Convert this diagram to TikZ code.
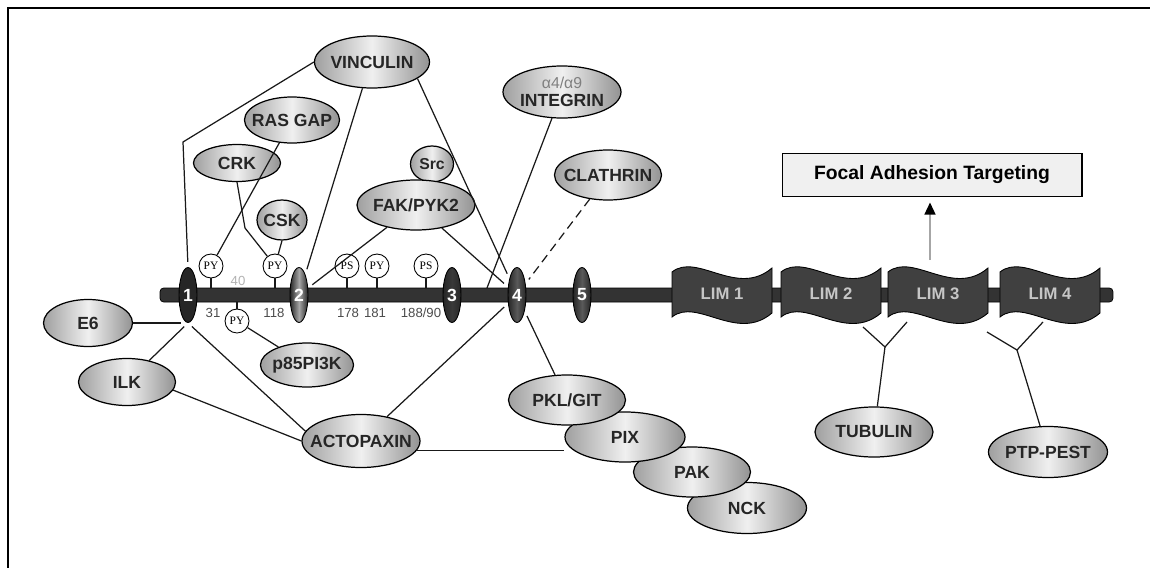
\documentclass[tikz,border=0pt]{standalone}
\usepackage{fontspec}
\setmainfont{Liberation Sans}
\newfontfamily\serifpy{Liberation Serif}
\usetikzlibrary{shapes.geometric,arrows.meta}
\newcommand\tagtxt[1]{\makebox[0pt]{#1}}
\tikzset{
  prot/.style 2 args={ellipse, draw=black, line width=0.7pt, inner sep=0pt,
    minimum width=#1*0.02cm, minimum height=#2*0.02cm,
    left color=gray!75, right color=gray!85, middle color=gray!12,
    font=\bfseries\fontsize{10}{11}\selectfont, text=black!85},
  dom/.style={ellipse, draw=black, line width=0.5pt, inner sep=0pt,
    minimum width=0.36cm, minimum height=1.1cm,
    left color=black!85, right color=black!85, middle color=#1,
    text=white, font=\bfseries\fontsize{10}{11}\selectfont},
  pysite/.style={circle, draw=black, fill=white, line width=0.5pt, inner sep=0pt,
    minimum size=0.48cm, font=\serifpy\fontsize{6.5}{7}\selectfont},
  resnum/.style={inner sep=0pt, text=black!70, font=\fontsize{7.5}{8}\selectfont},
  limtxt/.style={inner sep=0pt, text=gray!45, font=\bfseries\fontsize{9.5}{10}\selectfont},
  bar/.style={rectangle, rounded corners=2pt, fill=black!80, draw=black,
    minimum width=19.06cm, minimum height=0.28cm, inner sep=0pt},
  targbox/.style={rectangle, draw=black, fill=gray!12, line width=0.6pt,
    minimum width=6cm, minimum height=0.86cm, font=\bfseries\fontsize{11}{13}\selectfont},
  link/.style={draw=black!90, line width=0.7pt},
  tie/.style={link, shorten >=3pt},
  targ/.style={draw=gray!70, line width=1.6pt, -{Triangle[length=7pt,width=6pt,color=black]}}
}
\begin{document}
\begin{tikzpicture}[x=0.02cm, y=-0.02cm]
  \useasboundingbox (0,0) rectangle (1150,568);
  \draw[line width=1.2pt] (8,568) -- (8,8) -- (1150,8);

  % backbone
  \node[bar] (bar) at (636.5,295) {};
  \foreach \x/\n in {672/1,781/2,888/3,1000/4}{
    \filldraw[fill=black!75, draw=black, line width=0.5pt]
      (\x,272) .. controls (\x+25,252) and (\x+65,298) .. (\x+100,268)
      -- (\x+100,313) .. controls (\x+65,343) and (\x+25,297) .. (\x,317) -- cycle;
    \node[limtxt] (lim\n) at (\x+50,294) {LIM \n};
  }
  \node[dom=black!85] (dom1) at (188,295) {1};
  \node[dom=gray!70] (dom2) at (299,295) {2};
  \node[dom=gray!45!black] (dom3) at (452,295) {3};
  \node[dom=black!65] (dom4) at (517,295) {4};
  \node[dom=black!65] (dom5) at (582,295) {5};

  % phospho sites
  \node[pysite] (py1) at (211,266) {PY};
  \node[pysite] (py2) at (275,266) {PY};
  \node[pysite] (ps1) at (347,266) {PS};
  \node[pysite] (py4) at (377,266) {PY};
  \node[pysite] (ps2) at (426,266) {PS};
  \node[pysite] (py3) at (237,321) {PY};
  \foreach \s in {py1,py2,ps1,py4,ps2}
    \draw[link] (\s.south) -- (\s.south |- bar.north);
  \draw[link] (py3.north) -- (py3.north |- bar.south);

  \node[resnum, text=gray!60] (r40) at (238,281) {40};
  \node[resnum] (r31) at (213,313) {31};
  \node[resnum] (r118) at (274,313) {118};
  \node[resnum] (r178) at (348,313) {178};
  \node[resnum] (r181) at (375,313) {181};
  \node[resnum] (r188) at (421,313) {188/90};

  % partners
  \node[prot={115}{52}] (vinc) at (372,62) {\tagtxt{VINCULIN}};
  \node[prot={95}{46}] (rasgap) at (292,120) {\tagtxt{RAS GAP}};
  \node[prot={87}{37}] (crk) at (237,163) {\tagtxt{CRK}};
  \node[prot={50}{40}] (csk) at (282,220) {\tagtxt{CSK}};
  \node[prot={43}{36}, font=\bfseries\fontsize{9}{10}\selectfont] (src) at (432,164) {\tagtxt{Src}};
  \node[prot={118}{50}] (fak) at (416,205) {\tagtxt{FAK/PYK2}};
  \node[prot={118}{52}] (integ) at (562,92)
    {\tagtxt{\shortstack{{\mdseries\color{gray}\fontsize{9}{9}\selectfont α4/α9}\\INTEGRIN}}};
  \node[prot={107}{50}] (clath) at (608,175) {\tagtxt{CLATHRIN}};
  \node[prot={89}{47}] (e6) at (88,323) {\tagtxt{E6}};
  \node[prot={97}{47}] (ilk) at (127,382) {\tagtxt{ILK}};
  \node[prot={93}{44}] (p85) at (307,365) {\tagtxt{p85PI3K}};
  \node[prot={118}{53}] (acto) at (361,441) {\tagtxt{ACTOPAXIN}};
  \node[prot={119}{51}] (nck) at (747,508) {\tagtxt{NCK}};
  \node[prot={117}{50}] (pak) at (692,472) {\tagtxt{PAK}};
  \node[prot={120}{50}] (pix) at (625,437) {\tagtxt{PIX}};
  \node[prot={117}{50}] (pkl) at (567,400) {\tagtxt{PKL/GIT}};
  \node[prot={118}{50}] (tub) at (874,432) {\tagtxt{TUBULIN}};
  \node[prot={119}{51}] (ptp) at (1048,452) {\tagtxt{PTP-PEST}};
  \node[targbox] (fat) at (932,175) {Focal Adhesion Targeting};

  % helper points
  \coordinate (vbend) at (183,142);
  \coordinate (crkbend) at (245,228);
  \coordinate (integfoot) at (487,288);
  \coordinate (limtop) at (930,260);
  \coordinate (arm2) at (863,327);
  \coordinate (arm3) at (907,322);
  \coordinate (fork23) at (885,347);
  \coordinate (arm3b) at (987,332);
  \coordinate (arm4) at (1043,322);
  \coordinate (fork34) at (1017,350);

  % connections
  \draw[tie] (vinc.west) -- (vbend) -- (dom1.north);
  \draw[tie] (vinc.250) -- (dom2);
  \draw[tie] (vinc.-20) -- (dom4);
  \draw[link] (rasgap) -- (py1);
  \draw[link] (crk.south) -- (crkbend) -- (py2);
  \draw[link] (csk.south) -- (py2);
  \draw[tie] (fak) -- (dom2);
  \draw[tie] (fak) -- (dom4);
  \draw[link] (integ) -- (integfoot);
  \draw[tie, dash pattern=on 5pt off 3pt] (clath) -- (dom4);
  \draw[link, shorten <=3pt] (dom4) -- (pkl);
  \draw[link, shorten <=3pt] (dom4) -- (acto);
  \draw[link] (acto.-10) -- (pix.west |- acto.-10);
  \draw[link, shorten >=4pt] (e6.east) -- (e6.east -| dom1.south);
  \draw[link, shorten <=3pt] (dom1.south) -- (ilk);
  \draw[link, shorten <=3pt] (dom1.south) -- (acto.170);
  \draw[link] (ilk.-10) -- (acto.west);
  \draw[link] (py3) -- (p85);
  \draw[link] (arm2) -- (fork23) -- (arm3);
  \draw[link] (fork23) -- (tub);
  \draw[link] (arm3b) -- (fork34) -- (arm4);
  \draw[link] (fork34) -- (ptp);
  \draw[targ, shorten >=3pt] (limtop) -- (limtop |- fat.south);
\end{tikzpicture}
\end{document}
